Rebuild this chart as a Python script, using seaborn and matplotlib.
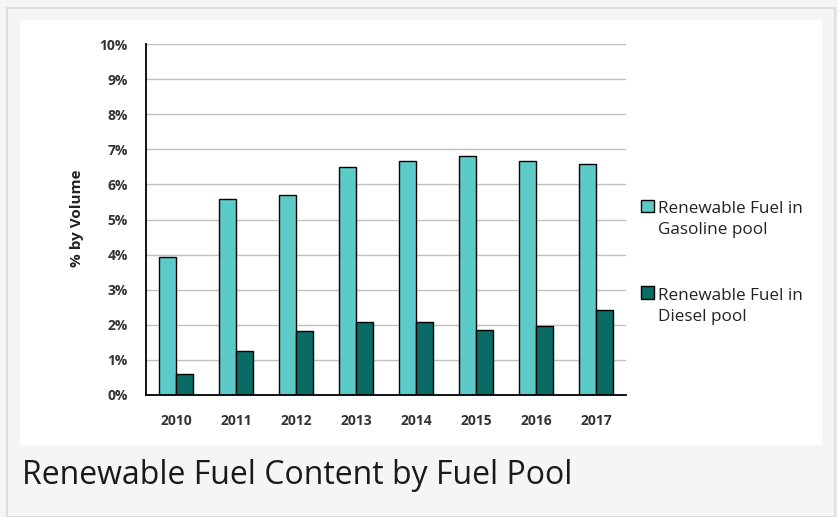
import numpy as np
import pandas as pd
import matplotlib.pyplot as plt
import matplotlib.patches as mpatches
import seaborn as sns

# data
years = ['2010', '2011', '2012', '2013', '2014', '2015', '2016', '2017']
gasoline = [3.92, 5.57, 5.69, 6.49, 6.66, 6.82, 6.66, 6.59]
diesel = [0.61, 1.26, 1.81, 2.08, 2.08, 1.86, 1.98, 2.41]
series_names = ['Renewable Fuel in\nGasoline pool', 'Renewable Fuel in\nDiesel pool']
y_ticks = [0, 1, 2, 3, 4, 5, 6, 7, 8, 9, 10]
y_tick_labels = [f'{t}%' for t in y_ticks]
caption = 'Renewable Fuel Content by Fuel Pool'

sns.set_style('white')
plt.rcParams['font.family'] = ['Open Sans', 'DejaVu Sans']

df = pd.DataFrame({
    'year': years * 2,
    'value': gasoline + diesel,
    'series': [series_names[0]] * len(years) + [series_names[1]] * len(years),
})

W, H = 838, 517
fig = plt.figure(figsize=(W / 100, H / 100), dpi=100)
fig.patch.set_facecolor('#f5f5f5')

# outer frame and white panel (pixel coords -> figure fraction)
def px_rect(x0, y0, x1, y1, **kw):
    return mpatches.Rectangle((x0 / W, 1 - y1 / H), (x1 - x0) / W, (y1 - y0) / H,
                              transform=fig.transFigure, zorder=-10, **kw)

fig.patches.append(px_rect(7, 8, 835, 517, facecolor='#f5f5f5', edgecolor='#dedede', linewidth=1.5))
fig.patches.append(px_rect(20, 20, 822, 445, facecolor='white', edgecolor='none'))

ax = fig.add_axes([146 / W, 1 - 395 / H, 480 / W, 351 / H])
ax.set_facecolor('none')

sns.barplot(data=df, x='year', y='value', hue='series', order=years,
            palette=['#5ccbc7', '#096b64'], saturation=1, width=0.57,
            edgecolor='black', linewidth=1.0, ax=ax, legend=True, errorbar=None)

ax.set_xlim(-0.5, len(years) - 0.5)
ax.set_ylim(0, 10)
ax.set_yticks(y_ticks)
ax.set_yticklabels(y_tick_labels, fontsize=10, fontweight='bold', color='#333333')
ax.yaxis.grid(True, color='#c0c0c0', linewidth=1)
ax.set_axisbelow(True)

# x: labels at centres, tick marks at group boundaries
ax.set_xticks(range(len(years)))
ax.set_xticklabels(years, fontsize=10, fontweight='bold', color='#333333')
ax.set_xticks(np.arange(-0.5, len(years)), minor=True)
ax.tick_params(axis='x', which='major', length=0, pad=14)
ax.tick_params(axis='x', which='minor', length=5, width=1.2, color='black', direction='out')
ax.tick_params(axis='y', length=5, width=1, color='black', direction='out', pad=8)

for side in ['top', 'right']:
    ax.spines[side].set_visible(False)
for side in ['left', 'bottom']:
    ax.spines[side].set_color('black')
    ax.spines[side].set_linewidth(1.3)

ax.set_xlabel('')
ax.set_ylabel('% by Volume', fontsize=11, fontweight='bold', color='#222222')
ax.yaxis.set_label_coords(-0.129, 0.504)

# legend to the right of the plot
handles, labels = ax.get_legend_handles_labels()
ax.get_legend().remove()
leg = fig.legend(handles, labels, loc='upper left', bbox_to_anchor=(626 / W, 1 - 186 / H),
                 frameon=False, fontsize=12.3, handlelength=0.75, handleheight=0.75,
                 handletextpad=0.2, labelspacing=2.9)
for t in leg.get_texts():
    t.set_color('#222222')
    t.set_linespacing(1.4)
# put the swatch next to the first line of each label
for h in leg.legend_handles:
    h.set_y(h.get_y() + 10)

fig.text(22 / W, 1 - 484 / H, caption, fontsize=23, color='#1a1a1a', ha='left', va='baseline')

fig.savefig('out.png', dpi=100, facecolor=fig.get_facecolor())
